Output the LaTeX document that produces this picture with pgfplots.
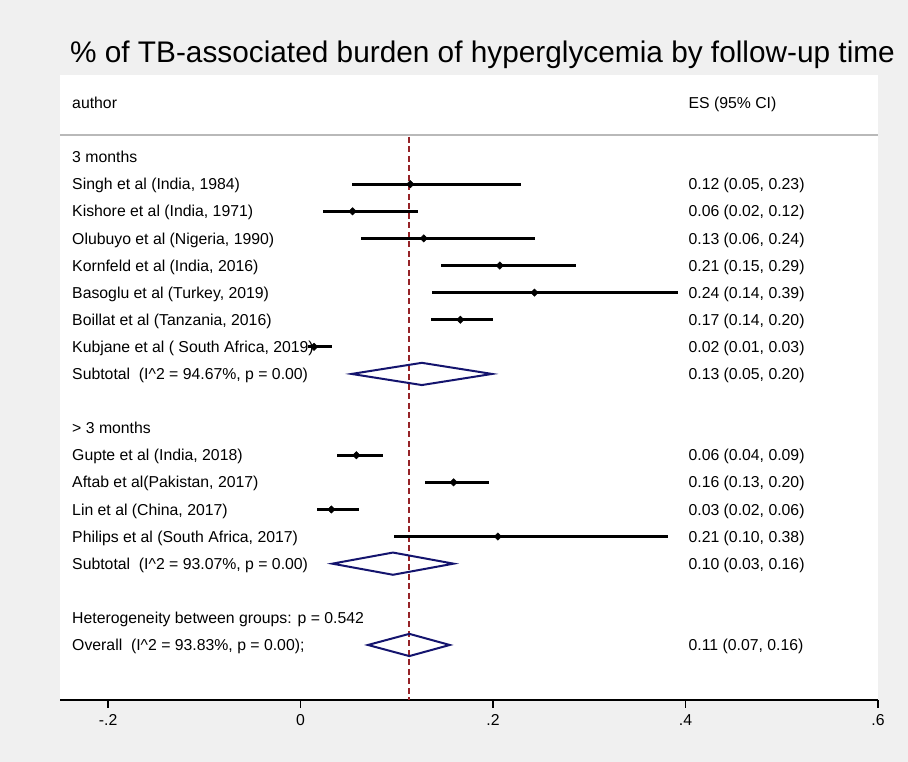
\documentclass[border=0pt]{standalone}
\usepackage{fontspec}
\setmainfont{Liberation Sans}
\usepackage{pgfplots}
\pgfplotsset{compat=1.18}
\usepackage{pgfplotstable}
\definecolor{bg}{RGB}{240,240,240}
\definecolor{dia}{RGB}{20,20,110}
\definecolor{refl}{RGB}{150,35,40}
\definecolor{sep}{RGB}{185,185,185}
\newcommand\fs{\fontsize{15.8}{19}\selectfont}
\newcommand\lab[2]{\node[anchor=base west,inner sep=0pt,yshift=-5.6pt] at (axis cs:-0.2375,#1) {#2};}
\newcommand\est[2]{\node[anchor=base west,inner sep=0pt,yshift=-5.6pt] at (axis cs:0.403,#1) {#2};}

% y = -(row number)
\pgfplotstableread{
y es lo hi
-3 0.114 0.053 0.229
-4 0.054 0.023 0.122
-5 0.128 0.063 0.244
-6 0.207 0.146 0.286
-7 0.243 0.137 0.392
-8 0.166 0.136 0.200
-9 0.014 0.008 0.033
-13 0.058 0.038 0.086
-14 0.159 0.129 0.196
-15 0.032 0.017 0.061
-16 0.205 0.097 0.382
}\studies

\begin{document}
\begin{tikzpicture}[font=\fs]
\fill[bg] (0,0) rectangle (908pt,762pt);
\useasboundingbox (0,0) rectangle (908pt,762pt);
\fill[white] (60pt,62pt) rectangle (878pt,687pt);
\node[anchor=base,inner sep=0pt,font=\fontsize{29.8}{34}\selectfont] at (482.5pt,699.3pt) {\% of TB-associated burden of hyperglycemia by follow-up time};
\begin{axis}[
  at={(60pt,62pt)}, anchor=south west,
  scale only axis, width=818pt, height=625pt,
  xmin=-0.25, xmax=0.6, ymin=-22.03, ymax=1.03,
  axis x line=bottom, axis y line=none,
  axis line style={-, black, line width=1.8pt},
  xtick={-0.2,0,0.2,0.4,0.6},
  xticklabels={-.2,0,.2,.4,.6},
  tick align=outside,
  major tick length=8pt,
  every tick/.style={black, line width=1.8pt},
  ticklabel style={font=\fs, yshift=-3pt},
  clip=false,
]
% separator and reference line
\draw[sep, line width=2pt] (axis cs:-0.25,-1.19) -- (axis cs:0.6,-1.19);
\addplot[draw=refl, line width=2pt, dash pattern=on 6pt off 3.5pt] coordinates {(0.113,-1.25) (0.113,-22.03)};
% studies
\addplot[only marks, mark=square*, mark size=2.6pt, black, mark options={fill=black, line width=0.5pt, rotate=45},
  error bars/.cd, x dir=both, x explicit, error mark=none,
  error bar style={line width=3pt, black}]
  table[x=es, y=y, x error minus expr=\thisrow{es}-\thisrow{lo}, x error plus expr=\thisrow{hi}-\thisrow{es}] {\studies};
% pooled diamonds
\addplot[dia, line width=2pt] coordinates {(0.053,-10) (0.126,-9.59) (0.199,-10) (0.126,-10.41)} -- cycle;
\addplot[dia, line width=2pt] coordinates {(0.033,-17) (0.096,-16.59) (0.159,-17) (0.096,-17.41)} -- cycle;
\addplot[dia, line width=2pt] coordinates {(0.070,-20) (0.113,-19.59) (0.155,-20) (0.113,-20.41)} -- cycle;
% text columns
\lab{0}{author}
\est{0}{ES (95\% CI)}
\lab{-2}{3 months}
\lab{-3}{Singh et al (India, 1984)} \est{-3}{0.12 (0.05, 0.23)}
\lab{-4}{Kishore et al (India, 1971)} \est{-4}{0.06 (0.02, 0.12)}
\lab{-5}{Olubuyo et al (Nigeria, 1990)} \est{-5}{0.13 (0.06, 0.24)}
\lab{-6}{Kornfeld et al (India, 2016)} \est{-6}{0.21 (0.15, 0.29)}
\lab{-7}{Basoglu et al (Turkey, 2019)} \est{-7}{0.24 (0.14, 0.39)}
\lab{-8}{Boillat et al (Tanzania, 2016)} \est{-8}{0.17 (0.14, 0.20)}
\lab{-9}{Kubjane et al ( South Africa, 2019)} \est{-9}{0.02 (0.01, 0.03)}
\lab{-10}{Subtotal\ \ (I\textasciicircum 2 = 94.67\%, p = 0.00)} \est{-10}{0.13 (0.05, 0.20)}
\lab{-12}{> 3 months}
\lab{-13}{Gupte et al (India, 2018)} \est{-13}{0.06 (0.04, 0.09)}
\lab{-14}{Aftab et al(Pakistan, 2017)} \est{-14}{0.16 (0.13, 0.20)}
\lab{-15}{Lin et al (China, 2017)} \est{-15}{0.03 (0.02, 0.06)}
\lab{-16}{Philips et al (South Africa, 2017)} \est{-16}{0.21 (0.10, 0.38)}
\lab{-17}{Subtotal\ \ (I\textasciicircum 2 = 93.07\%, p = 0.00)} \est{-17}{0.10 (0.03, 0.16)}
\lab{-19}{Heterogeneity between groups: p = 0.542}
\lab{-20}{Overall\ \ (I\textasciicircum 2 = 93.83\%, p = 0.00);} \est{-20}{0.11 (0.07, 0.16)}
\end{axis}
\end{tikzpicture}
\end{document}
